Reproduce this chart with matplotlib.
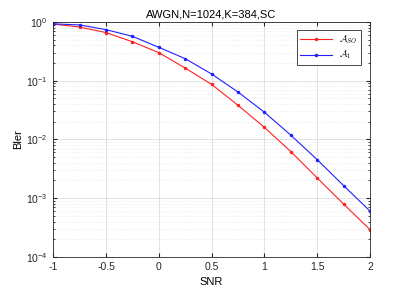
import matplotlib
matplotlib.use('Agg')
import matplotlib.pyplot as plt
import numpy as np

# SNR points and block error rates
snr = [-1, -0.75, -0.5, -0.25, 0, 0.25, 0.5, 0.75, 1, 1.25, 1.5, 1.75, 2]
bler_so = [0.92, 0.82, 0.66, 0.46, 0.30, 0.164, 0.0865, 0.038, 0.016, 0.0062, 0.0022, 0.00079, 0.00029]
bler_1 = [0.93, 0.89, 0.74, 0.57, 0.37, 0.237, 0.13, 0.064, 0.029, 0.0118, 0.0045, 0.00163, 0.0006]

plt.rcParams['font.family'] = ['Liberation Sans', 'DejaVu Sans']
plt.rcParams['mathtext.fontset'] = 'cm'

fig = plt.figure(figsize=(4.09, 2.89), dpi=100)
ax = fig.add_axes([0.13, 0.111, 0.775, 0.813])

ax.semilogy(snr, bler_so, color='#ff2020', marker='.', markersize=3, linewidth=0.8, label=r'$\mathcal{A}_{SO}$')
ax.semilogy(snr, bler_1, color='#2020ff', marker='.', markersize=3, linewidth=0.8, label=r'$\mathcal{A}_1$')

ax.set_xlim(-1, 2)
ax.set_ylim(1e-4, 1)
ax.set_xticks([-1, -0.5, 0, 0.5, 1, 1.5, 2])
ax.set_xticklabels(['-1', '-0.5', '0', '0.5', '1', '1.5', '2'])
ax.grid(True, which='major', color='#dddddd', linewidth=0.6)
ax.grid(True, which='minor', color='#e4e4e4', linewidth=0.5, linestyle=':')
ax.tick_params(which='both', direction='in', labelsize=7.5, colors='#262626', top=True, right=True)
ax.tick_params(which='major', length=3, pad=4)
ax.tick_params(which='minor', length=1.5)
for s in ax.spines.values():
    s.set_color('#262626')
    s.set_linewidth(0.6)

ax.set_xlabel('SNR', fontsize=8, labelpad=3)
ax.set_ylabel('Bler', fontsize=8, labelpad=2)
ax.set_title('AWGN,N=1024,K=384,SC', fontsize=8, pad=3)

leg = ax.legend(loc='upper right', fontsize=6.5, fancybox=False, framealpha=1,
                edgecolor='#262626', handlelength=3.5, borderpad=0.4, labelspacing=0.3,
                bbox_to_anchor=(0.985, 0.985))
leg.get_frame().set_linewidth(0.6)

fig.savefig('out.png', dpi=100)
